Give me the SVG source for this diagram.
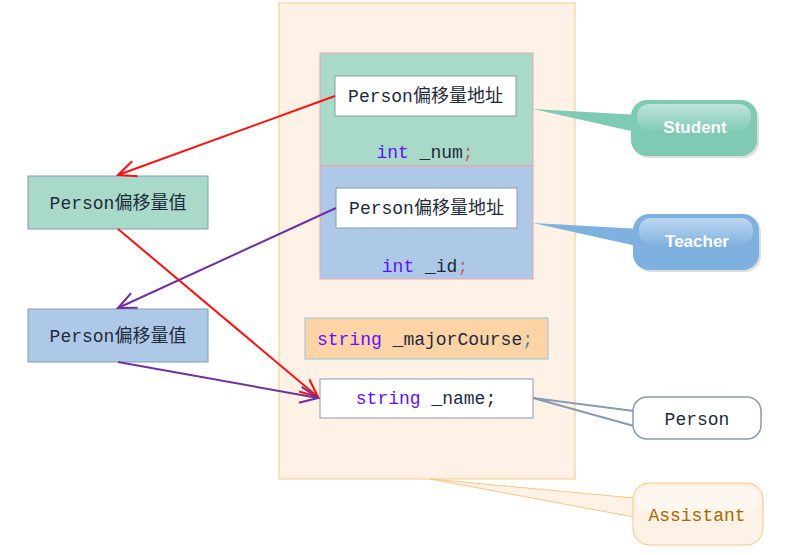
<svg xmlns="http://www.w3.org/2000/svg" width="785" height="555" viewBox="0 0 785 555">
<style>
.mono{font-family:"Liberation Mono","Noto Sans CJK SC",monospace;font-size:18px;fill:#1e2a3a}
.kw{fill:#6010ff}
.cap{font-family:"Liberation Sans",Arial,sans-serif;font-size:17px;font-weight:bold;fill:#ffffff}
</style>
<defs>
<marker id="arrR" viewBox="0 0 22 22" refX="20" refY="11" markerWidth="22" markerHeight="22" markerUnits="userSpaceOnUse" orient="auto">
<path d="M2,3 L20,11 L2,19" fill="none" stroke="#ff1010" stroke-width="2"/>
</marker>
<marker id="arrP" viewBox="0 0 22 22" refX="20" refY="11" markerWidth="22" markerHeight="22" markerUnits="userSpaceOnUse" orient="auto">
<path d="M2,3 L20,11 L2,19" fill="none" stroke="#7030a0" stroke-width="2"/>
</marker>
<linearGradient id="gloss" x1="0" y1="0" x2="0" y2="1">
<stop offset="0" stop-color="#ffffff" stop-opacity="0.5"/>
<stop offset="1" stop-color="#ffffff" stop-opacity="0.05"/>
</linearGradient>
</defs>
<rect width="785" height="555" fill="#ffffff"/>

<g id="assistant-container">
<rect x="279" y="3" width="296" height="476" fill="#fef2e6" stroke="#ffc57f" stroke-width="1"/>
</g>

<g id="student-part">
<rect x="320" y="53" width="213" height="113" fill="#a9d9c9" stroke="#f0a0b4" stroke-width="1"/>
<rect x="335" y="76" width="181" height="40" fill="#ffffff" stroke="#8a9ab0" stroke-width="1"/>
<text class="mono" x="425.5" y="102" text-anchor="middle">Person偏移量地址</text>
<text class="mono" x="425" y="158" text-anchor="middle"><tspan class="kw">int</tspan> _num<tspan fill="#c06060">;</tspan></text>
</g>

<g id="teacher-part">
<rect x="320" y="166" width="213" height="113" fill="#aec9e8" stroke="#f0a0b4" stroke-width="1"/>
<rect x="336" y="188" width="181" height="40" fill="#ffffff" stroke="#8a9ab0" stroke-width="1"/>
<text class="mono" x="426.5" y="214" text-anchor="middle">Person偏移量地址</text>
<text class="mono" x="425" y="272" text-anchor="middle"><tspan class="kw">int</tspan> _id<tspan fill="#c06060">;</tspan></text>
</g>

<g id="major-course">
<rect x="305" y="318" width="243" height="41" fill="#fed3a6" stroke="#8fc6dc" stroke-width="1"/>
<text class="mono" x="425" y="345" text-anchor="middle"><tspan class="kw">string</tspan> _majorCourse<tspan fill="#3090a0">;</tspan></text>
</g>

<g id="name-field">
<rect x="320" y="379" width="213" height="39" fill="#ffffff" stroke="#8a9ab0" stroke-width="1"/>
<text class="mono" x="426" y="404" text-anchor="middle"><tspan class="kw">string</tspan> _name;</text>
</g>

<g id="student-offset">
<rect x="28" y="176" width="180" height="53" fill="#a9d9c9" stroke="#8a9ab0" stroke-width="1"/>
<text class="mono" x="118" y="209" text-anchor="middle">Person偏移量值</text>
</g>

<g id="teacher-offset">
<rect x="28" y="309" width="180" height="53" fill="#aec9e8" stroke="#8a9ab0" stroke-width="1"/>
<text class="mono" x="118" y="342" text-anchor="middle">Person偏移量值</text>
</g>

<g id="student-callout">
<path d="M533,109 L640,115 L640,133 Z" fill="#7ecab5"/>
<rect x="633" y="102" width="126" height="56" rx="16" fill="#c8c8c8" opacity="0.6"/>
<rect x="631" y="100" width="126" height="56" rx="16" fill="#7ecab5"/>
<rect x="637" y="104" width="114" height="26" rx="12" fill="url(#gloss)"/>
<text class="cap" x="695" y="133" text-anchor="middle">Student</text>
</g>

<g id="teacher-callout">
<path d="M533,223 L641,229 L641,247 Z" fill="#7eb0e0"/>
<rect x="635" y="216" width="126" height="56" rx="16" fill="#c8c8c8" opacity="0.6"/>
<rect x="633" y="214" width="126" height="56" rx="16" fill="#7eb0e0"/>
<rect x="639" y="218" width="114" height="26" rx="12" fill="url(#gloss)"/>
<text class="cap" x="697" y="247" text-anchor="middle">Teacher</text>
</g>

<g id="person-callout">
<path d="M533,398 L634,411 M533,398 L634,426" fill="none" stroke="#8a9ab0" stroke-width="2"/>
<rect x="633" y="397" width="128" height="42" rx="14" fill="#ffffff" stroke="#8a9ab0" stroke-width="1.5"/>
<text class="mono" x="697" y="425" text-anchor="middle">Person</text>
</g>

<g id="assistant-callout">
<path d="M430,479 L634,498 L634,517 Z" fill="#fef2e6" stroke="#ffc57f" stroke-width="1"/>
<rect x="633" y="483" width="130" height="62" rx="16" fill="#fef2e6" stroke="#ffc57f" stroke-width="1"/>
<rect x="637" y="487" width="122" height="24" rx="10" fill="#ffffff" opacity="0.4"/>
<text class="mono" x="697" y="521" text-anchor="middle" style="fill:#a86800">Assistant</text>
</g>

<g id="connectors">
<line x1="335" y1="96" x2="118" y2="175" stroke="#ff1010" stroke-width="2" marker-end="url(#arrR)"/>
<line x1="118" y1="229" x2="318" y2="397" stroke="#ff1010" stroke-width="2" marker-end="url(#arrR)"/>
<line x1="336" y1="208" x2="118" y2="308" stroke="#7030a0" stroke-width="2" marker-end="url(#arrP)"/>
<line x1="118" y1="362" x2="318" y2="398" stroke="#7030a0" stroke-width="2" marker-end="url(#arrP)"/>
</g>
</svg>
